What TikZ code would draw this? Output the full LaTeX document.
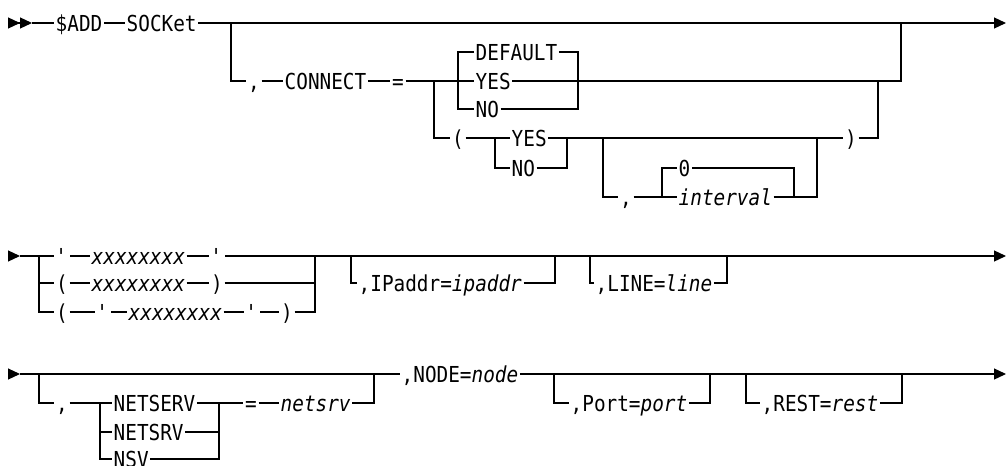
\documentclass[tikz,border=0pt]{standalone}
\usepackage{fontspec}
\usetikzlibrary{arrows.meta}
\newfontfamily\railfont[FakeStretch=0.88]{DejaVu Sans Mono}

\begin{document}
\begin{tikzpicture}[
  x=1pt, y=-1pt,
  rail/.style={draw, line width=1.2pt},
  endtip/.style={-{Triangle[length=12pt, width=11pt]}},
  starttip/.style={-{Triangle[length=12pt, width=11pt]Triangle[length=12pt, width=11pt]}},
  kw/.style={anchor=west, inner sep=1.5pt, text height=16pt, text depth=0pt, font=\railfont\fontsize{22}{26}\selectfont},
  varname/.style={kw, font=\railfont\itshape\fontsize{22}{26}\selectfont},
  sym/.style={kw, anchor=center}
]
\useasboundingbox (0,0) rectangle (1007,466);

% first line: $ADD SOCKet [,CONNECT=...]
\coordinate (r1s) at (8,23);
\coordinate (r1a) at (32,23);
\coordinate (r1e) at (1006,23);
\node[kw] (add) at (54,23) {\$ADD};
\node[kw] (sock) at (125,23) {SOCKet};
\coordinate (b1) at (231,23);
\coordinate (j1) at (901,23);
\node[sym] (c1) at (254,81) {,};
\node[kw] (conn) at (283,81) {CONNECT};
\node[sym] (eq1) at (398,81) {=};
\coordinate (b2) at (434,81);
\coordinate (b3) at (458,81);
\node[kw] (dflt) at (474,52) {DEFAULT};
\node[kw] (yes1) at (474,81) {YES};
\node[kw] (no1) at (474,109) {NO};
\coordinate (j3) at (578,81);
\coordinate (j2) at (878,81);
\coordinate (j1b) at (901,81);
\node[sym] (lp1) at (458,138) {(};
\coordinate (b4) at (495,138);
\node[kw] (yes2) at (510,138) {YES};
\node[kw] (no2) at (510,168) {NO};
\coordinate (j4) at (567,138);
\coordinate (b5) at (603,138);
\node[sym] (c2) at (626,197) {,};
\coordinate (b6) at (662,197);
\node[kw] (zero) at (677,168) {0};
\node[varname] (intv) at (677,197) {interval};
\coordinate (j6) at (794,197);
\coordinate (j5) at (817,138);
\node[sym] (rp1) at (851,138) {)};

\draw[rail, starttip] (r1s) -- (r1a);
\draw[rail] (r1a) -- (add) -- (sock);
\draw[rail, endtip] (sock) -- (r1e);
\draw[rail] (b1) |- (c1) -- (conn) -- (eq1) -- (b3);
\draw[rail] (b3) |- (dflt) -| (j3);
\draw[rail] (b3) |- (no1) -| (j3);
\draw[rail] (b3) -- (yes1) -- (j1b) -- (j1);
\draw[rail] (b2) |- (lp1) -- (yes2) -- (rp1) -| (j2);
\draw[rail] (b4) |- (no2) -| (j4);
\draw[rail] (b5) |- (c2) -- (intv) -| (j5);
\draw[rail] (b6) |- (zero) -| (j6);

% second line: name, IPaddr, LINE
\coordinate (r2s) at (8,256);
\coordinate (r2a) at (20,256);
\coordinate (r2e) at (1006,256);
\coordinate (b7) at (39,256);
\node[sym] (q1a) at (62,256) {\textquotesingle};
\node[varname] (x1) at (90,256) {xxxxxxxx};
\node[sym] (q1b) at (217,256) {\textquotesingle};
\node[sym] (lp2) at (62,283) {(};
\node[varname] (x2) at (90,283) {xxxxxxxx};
\node[sym] (rp2) at (217,283) {)};
\node[sym] (lp3) at (62,312) {(};
\node[sym] (q3a) at (103,312) {\textquotesingle};
\node[varname] (x3) at (127,312) {xxxxxxxx};
\node[sym] (q3b) at (252,312) {\textquotesingle};
\node[sym] (rp3) at (287,312) {)};
\coordinate (j7) at (315,256);
\coordinate (b8) at (351,256);
\node[kw] (ipa) at (357,283) {,IPaddr=\textit{ipaddr}};
\coordinate (j8) at (555,256);
\coordinate (b9) at (590,256);
\node[kw] (line) at (594,283) {,LINE=\textit{line}};
\coordinate (j9) at (727,256);

\draw[rail, endtip] (r2s) -- (r2a);
\draw[rail] (r2a) -- (q1a) -- (x1) -- (q1b);
\draw[rail, endtip] (q1b) -- (r2e);
\draw[rail] (b7) |- (lp2) -- (x2) -- (rp2) -| (j7);
\draw[rail] (b7) |- (lp3) -- (q3a) -- (x3) -- (q3b) -- (rp3) -| (j7);
\draw[rail] (b8) |- (ipa) -| (j8);
\draw[rail] (b9) |- (line) -| (j9);

% third line: NETSERV, NODE, Port, REST
\coordinate (r3s) at (8,374);
\coordinate (r3a) at (20,374);
\coordinate (r3e) at (1006,374);
\coordinate (b10) at (39,374);
\node[sym] (c3) at (62,403) {,};
\coordinate (b11) at (100,403);
\node[kw] (nserv) at (112,403) {NETSERV};
\node[kw] (nsrv) at (112,432) {NETSRV};
\node[kw] (nsv) at (112,459) {NSV};
\coordinate (j11) at (219,403);
\node[sym] (eq3) at (251,403) {=};
\node[varname] (nsvar) at (279,403) {netsrv};
\coordinate (j10) at (374,374);
\node[kw] (nodekw) at (400,374) {,NODE=\textit{node}};
\coordinate (b12) at (554,374);
\node[kw] (port) at (569,403) {,Port=\textit{port}};
\coordinate (j12) at (710,374);
\coordinate (b13) at (746,374);
\node[kw] (rest) at (760,403) {,REST=\textit{rest}};
\coordinate (j13) at (902,374);

\draw[rail, endtip] (r3s) -- (r3a);
\draw[rail] (r3a) -- (nodekw);
\draw[rail, endtip] (nodekw) -- (r3e);
\draw[rail] (b10) |- (c3) -- (nserv) -- (eq3) -- (nsvar) -| (j10);
\draw[rail] (b11) |- (nsrv) -| (j11);
\draw[rail] (b11) |- (nsv) -| (j11);
\draw[rail] (b12) |- (port) -| (j12);
\draw[rail] (b13) |- (rest) -| (j13);
\end{tikzpicture}
\end{document}
